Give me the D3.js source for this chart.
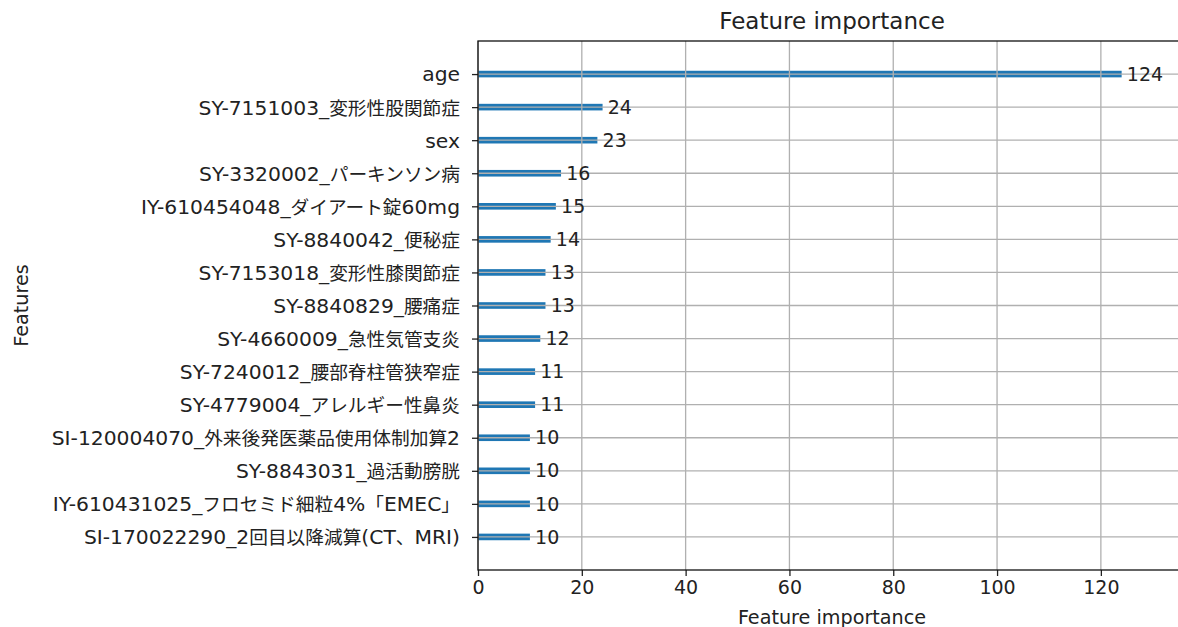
<!DOCTYPE html>
<html>
<head>
<meta charset="utf-8">
<script src="https://cdn.jsdelivr.net/npm/d3@7"></script>
<style>
  body { margin: 0; background: #fff; }
  svg text { font-family: "DejaVu Sans", "Noto Sans CJK JP", sans-serif; fill: #222; }
  .cjk { font-family: "Noto Sans CJK JP", sans-serif; }
</style>
</head>
<body>
<svg id="chart" width="1178" height="627"></svg>
<script>
// DATA ----------------------------------------------------------------
const features = [
  "age",
  "SY-7151003_変形性股関節症",
  "sex",
  "SY-3320002_パーキンソン病",
  "IY-610454048_ダイアート錠60mg",
  "SY-8840042_便秘症",
  "SY-7153018_変形性膝関節症",
  "SY-8840829_腰痛症",
  "SY-4660009_急性気管支炎",
  "SY-7240012_腰部脊柱管狭窄症",
  "SY-4779004_アレルギー性鼻炎",
  "SI-120004070_外来後発医薬品使用体制加算2",
  "SY-8843031_過活動膀胱",
  "IY-610431025_フロセミド細粒4%「EMEC」",
  "SI-170022290_2回目以降減算(CT、MRI)"
];
const importance = [124, 24, 23, 16, 15, 14, 13, 13, 12, 11, 11, 10, 10, 10, 10];
const xTicks = [0, 20, 40, 60, 80, 100, 120];

// SET UP --------------------------------------------------------------
const svg = d3.select("#chart");
const margin = { top: 41, left: 478, bottom: 570, right: 1186 };
const tickSize = 19;      // numbers on the x axis and at the bar ends
const latinSize = 20.3;   // latin part of the feature names
const cjkSize = 18.7;     // japanese part of the feature names
const barColor = "#1f77b4";
const gridColor = "#b0b0b0";

// split a label into latin / cjk runs so each gets its own size
const cjkRe = /[\u3000-\u30ff\u3400-\u9fff\uff00-\uffef]/;
function runs(str) {
  const out = [];
  for (const ch of str) {
    const isCjk = cjkRe.test(ch);
    if (out.length && out[out.length - 1].cjk === isCjk) out[out.length - 1].t += ch;
    else out.push({ t: ch, cjk: isCjk });
  }
  return out;
}

// lightgbm style: ylim (-1, n), xlim (0, max * 1.1)
const n = features.length;
const xScale = d3.scaleLinear()
  .domain([0, d3.max(importance) * 1.1])
  .range([margin.left, margin.right]);

const yScale = d3.scaleLinear()
  .domain([-1, n])
  .range([margin.bottom, margin.top]);

// bar i sits at y = n-1-i (first feature on top)
const yPos = i => yScale(n - 1 - i);
const barH = yScale(0) - yScale(0.2);

// BARS (below grid) ---------------------------------------------------
svg.append("g")
  .selectAll("rect")
  .data(importance)
  .enter()
  .append("rect")
  .attr("x", xScale(0))
  .attr("y", (d, i) => yPos(i) - barH / 2)
  .attr("width", d => xScale(d) - xScale(0))
  .attr("height", barH)
  .attr("fill", barColor);

// GRID ----------------------------------------------------------------
const grid = svg.append("g").attr("class", "grid");
grid.selectAll(".vgrid")
  .data(xTicks)
  .enter()
  .append("line")
  .attr("x1", d => xScale(d)).attr("x2", d => xScale(d))
  .attr("y1", margin.top).attr("y2", margin.bottom)
  .attr("stroke", gridColor).attr("stroke-width", 1.3);

grid.selectAll(".hgrid")
  .data(features)
  .enter()
  .append("line")
  .attr("x1", margin.left).attr("x2", margin.right)
  .attr("y1", (d, i) => yPos(i)).attr("y2", (d, i) => yPos(i))
  .attr("stroke", gridColor).attr("stroke-width", 1.3);

// VALUE LABELS --------------------------------------------------------
svg.append("g")
  .selectAll("text")
  .data(importance)
  .enter()
  .append("text")
  .attr("x", d => xScale(d + 1))
  .attr("y", (d, i) => yPos(i))
  .attr("dy", "0.35em")
  .style("font-size", tickSize + "px")
  .text(d => d);

// AXES ----------------------------------------------------------------
const xAxis = d3.axisBottom(xScale)
  .tickValues(xTicks)
  .tickSize(6)
  .tickPadding(5);

const gx = svg.append("g")
  .attr("transform", `translate(0,${margin.bottom})`)
  .call(xAxis);
gx.select(".domain").remove();
gx.selectAll(".tick line").attr("stroke", "#222").attr("stroke-width", 1.3);
gx.selectAll(".tick text").style("font-size", tickSize + "px").attr("fill", "#222");

const bandY = d3.scalePoint()
  .domain(features)
  .range([yPos(0), yPos(n - 1)]);

const yAxis = d3.axisLeft(bandY)
  .tickSize(6)
  .tickPadding(12);

const gy = svg.append("g")
  .attr("transform", `translate(${margin.left},0)`)
  .call(yAxis);
gy.select(".domain").remove();
gy.selectAll(".tick line").attr("stroke", "#222").attr("stroke-width", 1.3);
gy.selectAll(".tick text")
  .attr("fill", "#222")
  .style("font-size", latinSize + "px")
  .attr("dy", "0.34em")
  .text(null)
  .each(function (d) {
    const t = d3.select(this);
    runs(d).forEach(r => {
      t.append("tspan")
        .attr("class", r.cjk ? "cjk" : null)
        .style("font-size", (r.cjk ? cjkSize : latinSize) + "px")
        .text(r.t);
    });
  });

// SPINES --------------------------------------------------------------
svg.append("rect")
  .attr("x", margin.left)
  .attr("y", margin.top)
  .attr("width", margin.right - margin.left)
  .attr("height", margin.bottom - margin.top)
  .attr("fill", "none")
  .attr("stroke", "#111")
  .attr("stroke-width", 1.3);

// TITLES --------------------------------------------------------------
svg.append("text")
  .attr("x", (margin.left + margin.right) / 2)
  .attr("y", 29)
  .attr("text-anchor", "middle")
  .style("font-size", "23px")
  .text("Feature importance");

svg.append("text")
  .attr("x", (margin.left + margin.right) / 2)
  .attr("y", 624)
  .attr("text-anchor", "middle")
  .style("font-size", "19.2px")
  .text("Feature importance");

svg.append("text")
  .attr("transform", `translate(28,${(margin.top + margin.bottom) / 2}) rotate(-90)`)
  .attr("text-anchor", "middle")
  .style("font-size", "19.2px")
  .text("Features");
</script>
</body>
</html>
